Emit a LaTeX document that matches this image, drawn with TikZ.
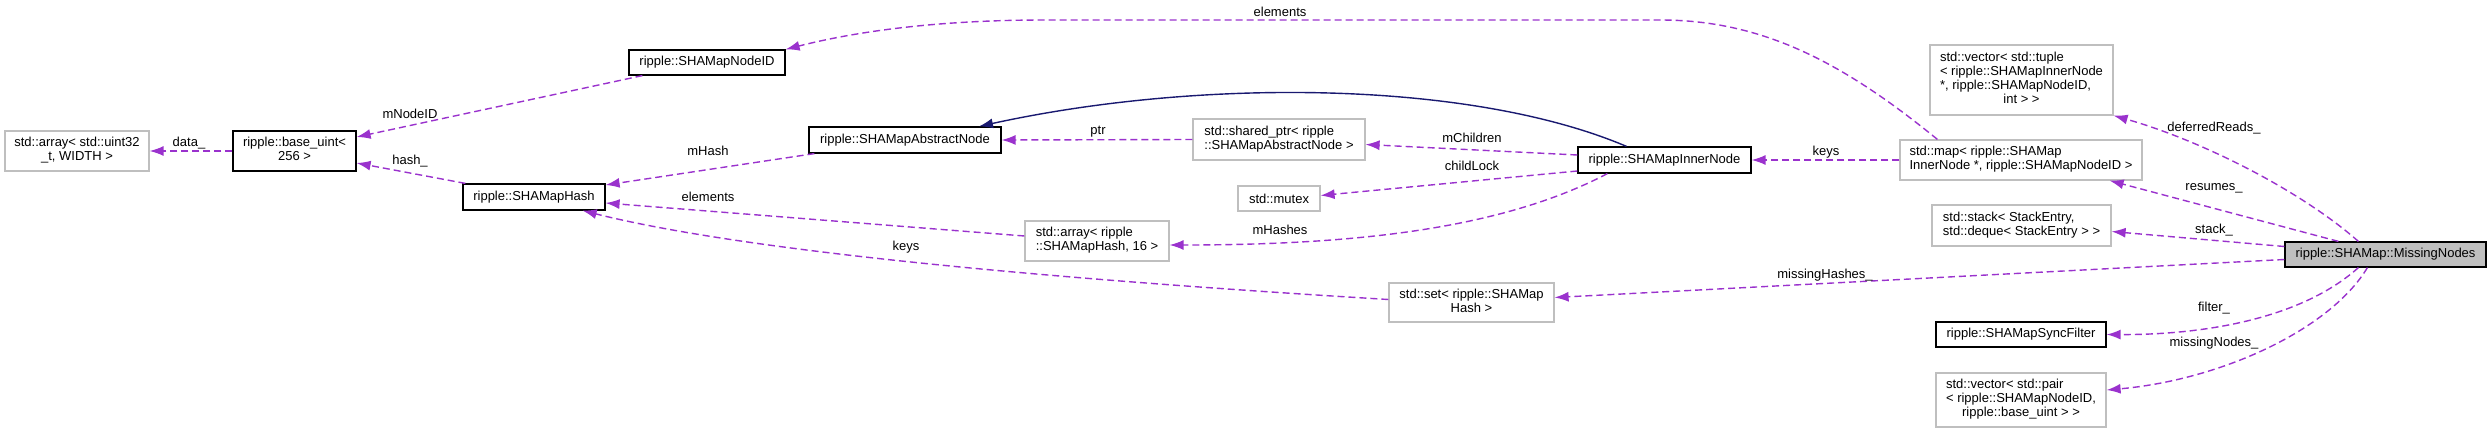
\documentclass[tikz,border=0pt]{standalone}
\usepackage{fontspec}
\setmainfont{Liberation Sans}
\usetikzlibrary{arrows.meta}
\definecolor{memc}{HTML}{9A32CD}
\definecolor{inhc}{HTML}{191970}
\definecolor{grayb}{HTML}{BFBFBF}
\newcommand{\nf}{\fontsize{13}{14}\selectfont}
\newcommand{\lines}[2]{\begin{tabular}{@{}l@{}}#1\\\multicolumn{1}{@{}c@{}}{#2}\end{tabular}}
\begin{document}
\begin{tikzpicture}[x=1pt,y=-1pt,
  box/.style={draw=black, line width=1.2pt, fill=white, inner sep=0pt, font=\nf},
  gbox/.style={draw=grayb, line width=1.2pt, fill=white, inner sep=0pt, font=\nf},
  mem/.style={draw=memc, line width=1.4pt, dash pattern=on 7pt off 4pt, -{Latex[length=14pt,width=10pt]}},
  inh/.style={draw=inhc, line width=1.4pt, -{Latex[length=14pt,width=10pt]}},
  lbl/.style={font=\nf, inner sep=0pt}]
\useasboundingbox (0,0) rectangle (2492,433);
% nodes
\node[gbox, minimum width=144pt, minimum height=40pt] (arr32) at (77,151) {\lines{std::array< std::uint32}{\_t, WIDTH >}};
\node[box, minimum width=123pt, minimum height=40pt] (bu) at (294.5,151) {\lines{ripple::base\_uint<}{256 >}};
\node[box, minimum width=156pt, minimum height=25pt] (nid) at (707,62.5) {ripple::SHAMapNodeID};
\node[box, minimum width=142pt, minimum height=26pt] (hash) at (534,197) {ripple::SHAMapHash};
\node[box, minimum width=192pt, minimum height=26pt] (abs) at (905,140) {ripple::SHAMapAbstractNode};
\node[gbox, minimum width=172pt, minimum height=41pt] (sp) at (1279,139.5) {\lines{std::shared\_ptr< ripple}{::SHAMapAbstractNode >}};
\node[gbox, minimum width=82pt, minimum height=25pt] (mtx) at (1279,198.5) {std::mutex};
\node[gbox, minimum width=144pt, minimum height=40pt] (a16) at (1097,241) {\lines{std::array< ripple}{::SHAMapHash, 16 >}};
\node[gbox, minimum width=165pt, minimum height=39pt] (set) at (1471.5,302.5) {\lines{std::set< ripple::SHAMap}{Hash >}};
\node[box, minimum width=173pt, minimum height=26pt] (inner) at (1664.5,160) {ripple::SHAMapInnerNode};
\node[gbox, minimum width=242pt, minimum height=40pt] (map) at (2021,160) {\lines{std::map< ripple::SHAMap}{InnerNode *, ripple::SHAMapNodeID >}};
\node[gbox, minimum width=183pt, minimum height=70pt] (vt) at (2021.5,80) {\lines{std::vector< std::tuple\\< ripple::SHAMapInnerNode\\{}*, ripple::SHAMapNodeID,}{int > >}};
\node[gbox, minimum width=179pt, minimum height=41pt] (stk) at (2021.5,225.5) {\lines{std::stack< StackEntry,}{std::deque< StackEntry > >}};
\node[box, fill=grayb, minimum width=201pt, minimum height=25pt] (mn) at (2385.5,254.5) {ripple::SHAMap::MissingNodes};
\node[box, minimum width=170pt, minimum height=25pt] (sf) at (2021,334.5) {ripple::SHAMapSyncFilter};
\node[gbox, minimum width=170pt, minimum height=54pt] (vp) at (2021,400) {\lines{std::vector< std::pair\\< ripple::SHAMapNodeID,}{ripple::base\_uint > >}};
% edges
\draw[mem] (bu.west) -- (arr32.east);
\draw[mem] ([xshift=14pt]nid.south west) -- ([yshift=14pt]bu.east);
\draw[mem] ([xshift=3pt]hash.north west) -- ([yshift=-12pt]bu.east);
\draw[mem] ([xshift=6pt]abs.south west) -- ([yshift=12pt]hash.east);
\draw[mem] ([yshift=5pt]a16.west) -- ([yshift=-6pt]hash.east);
\draw[mem] ([yshift=3pt]set.west) .. controls (1100,282) and (760,255) .. ([xshift=-23pt]hash.south east);
\draw[mem] ([xshift=38pt]map.north west) .. controls (1840,60) and (1760,20) .. (1660,20) -- (1045,20) .. controls (930,20) and (850,33) .. (nid.north east);
\draw[inh] ([xshift=-38pt]inner.north) .. controls (1470,80) and (1200,78) .. ([xshift=74pt]abs.north);
\draw[mem] (sp.west) -- (abs.east);
\draw[mem] ([yshift=5pt]inner.west) -- ([yshift=-5pt]sp.east);
\draw[mem] ([yshift=-11pt]inner.west) -- ([yshift=3pt]mtx.east);
\draw[mem] ([xshift=30pt]inner.south west) .. controls (1500,230) and (1350,245) .. ([yshift=-4pt]a16.east);
\draw[mem] (map.west) -- (inner.east);
\draw[mem] ([xshift=74pt]mn.north west) .. controls (2300,190) and (2200,140) .. (vt.south east);
\draw[mem] ([xshift=54pt]mn.north west) -- ([xshift=-33pt]map.south east);
\draw[mem] ([yshift=8pt]mn.west) -- ([yshift=-6pt]stk.east);
\draw[mem] ([yshift=-5pt]mn.west) -- ([yshift=5pt]set.east);
\draw[mem] ([xshift=74pt]mn.south west) .. controls (2300,320) and (2200,335) .. (sf.east);
\draw[mem] ([xshift=83pt]mn.south west) .. controls (2330,330) and (2220,380) .. ([yshift=10pt]vp.east);
% labels
\node[lbl] (ldata) at (189,143) {data\_};
\node[lbl] (lnid) at (410,114) {mNodeID};
\node[lbl] (lhash) at (410,161) {hash\_};
\node[lbl] (lmhash) at (708,151) {mHash};
\node[lbl] (lel1) at (708,197) {elements};
\node[lbl] (lkeys1) at (906,247) {keys};
\node[lbl] (lel2) at (1280,12) {elements};
\node[lbl] (lptr) at (1098,132) {ptr};
\node[lbl] (lch) at (1472,138) {mChildren};
\node[lbl] (llock) at (1472,166) {childLock};
\node[lbl] (lmh) at (1280,230) {mHashes};
\node[lbl] (lkeys2) at (1826,152) {keys};
\node[lbl] (ldef) at (2214,128) {deferredReads\_};
\node[lbl] (lres) at (2214,188) {resumes\_};
\node[lbl] (lstk) at (2214,230) {stack\_};
\node[lbl] (lmhs) at (1825,275) {missingHashes\_};
\node[lbl] (lfil) at (2214,308) {filter\_};
\node[lbl] (lmn) at (2214,343) {missingNodes\_};
\end{tikzpicture}
\end{document}
